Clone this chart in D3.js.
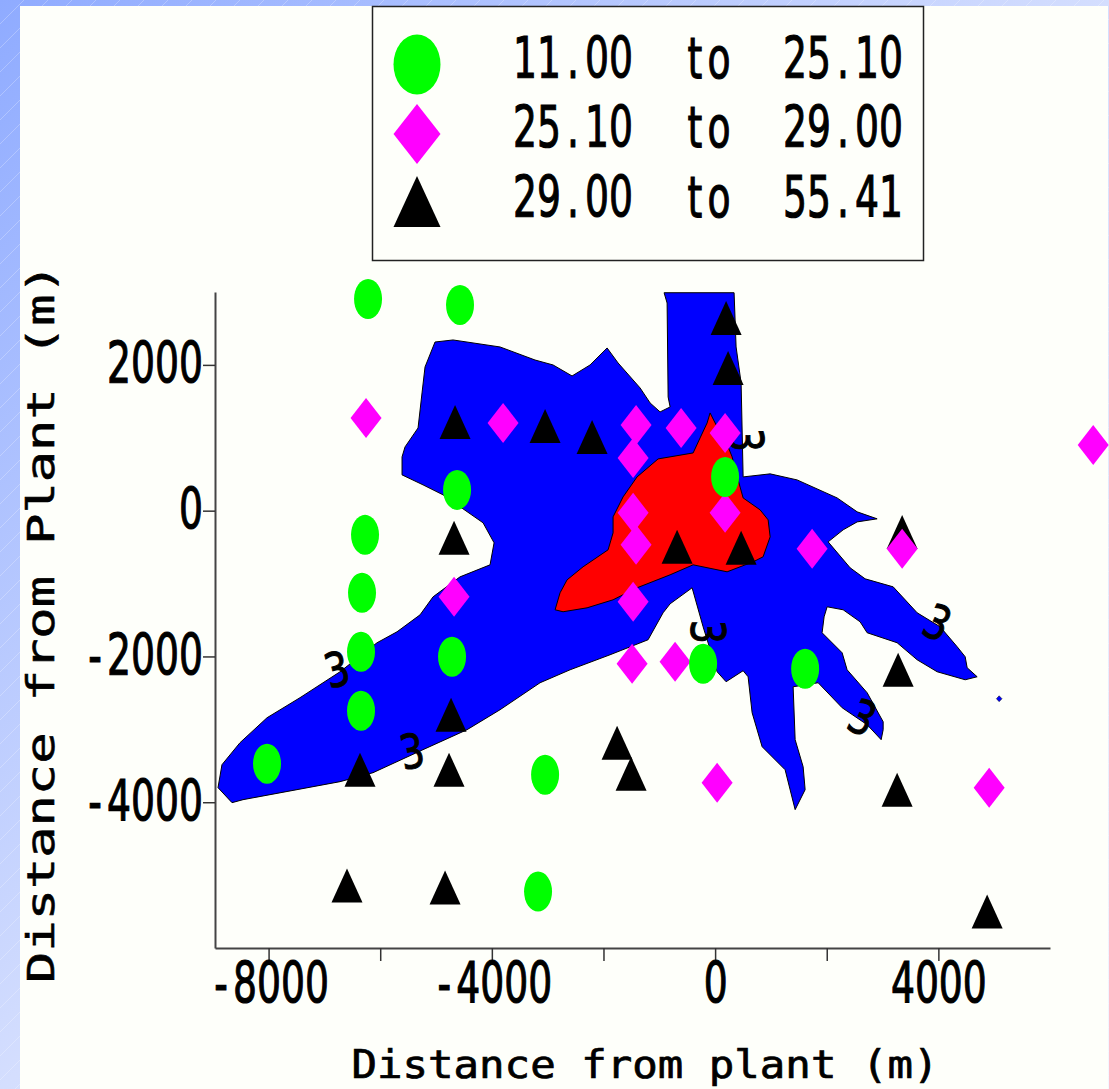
<!DOCTYPE html>
<html>
<head>
<meta charset="utf-8">
<script src="https://cdn.jsdelivr.net/npm/d3@7"></script>
<style>
  body { margin: 0; background: #fff; }
  svg { display: block; }
  .num { font-family: "DejaVu Sans"; font-size: 37.7px; fill: #000; stroke: #000; stroke-width: 0.8px; }
  .titulo { font-family: "DejaVu Sans Mono"; fill: #000; stroke: #000; stroke-width: 0.8px; }
  .tres { font-family: "DejaVu Sans"; fill: #000; stroke: #000; stroke-width: 0.8px; }
  .ejes path { stroke: #444; stroke-width: 2px; }
  .ejes line { stroke: #333; stroke-width: 1.5px; }
</style>
</head>
<body>
<div id="graf"></div>
<script>
// samples per class, [distance x, distance y] in m
const circulos = [[-6218,2904],[-4570,2822],[-4623,285],[-6272,-332],[-6326,-1127],[-6344,-1936],[-6344,-2745],[-8028,-3471],[-4713,-2004],[-3046,-3622],[-3172,-5226],[179,463],[-215,-2100],[1613,-2169]]
const rombos = [[-6254,1272],[-3799,1204],[-1416,1176],[-609,1135],[179,1067],[-1469,724],[-1469,-30],[-1416,-469],[-1469,-1250],[179,-30],[1738,-524],[3351,-524],[-1487,-2100],[-717,-2073],[36,-3732],[4910,-3800],[6774,902],[-4677,-1182]]
const triangulos = [[-6595,-5144],[-4838,-5171],[4874,-5500],[197,2643],[233,1958],[-4659,1217],[-3046,1163],[-2204,1012],[-681,-496],[466,-510],[-4677,-373],[-4731,-2800],[-6362,-3554],[-4767,-3554],[-1756,-3183],[-1505,-3608],[3261,-3828],[3279,-2183],[3351,-291]]

// contour outlines
const contornoAzul = [[-914,2990],[340,2990],[376,2246],[466,1752],[502,463],[986,505],[1469,422],[2186,175],[2545,-16],[2903,-112],[2545,-154],[2294,-263],[2025,-428],[2419,-784],[2688,-935],[3190,-1045],[3620,-1401],[4032,-1593],[4337,-1867],[4480,-2004],[4516,-2155],[4695,-2279],[4480,-2320],[3978,-2210],[3620,-2046],[3261,-1812],[2724,-1675],[2598,-1525],[2294,-1360],[2007,-1319],[1953,-1456],[1917,-1675],[2276,-1950],[2365,-2183],[2724,-2498],[3011,-2896],[3011,-3005],[2975,-3142],[2724,-2937],[2276,-2704],[1846,-2361],[1398,-2416],[1434,-3142],[1577,-3513],[1613,-3828],[1434,-4102],[1254,-3554],[842,-3238],[663,-2772],[591,-2279],[502,-2196],[197,-2347],[36,-2210],[-215,-1593],[-412,-1058],[-806,-1278],[-932,-1401],[-1201,-1771],[-1882,-1977],[-2598,-2183],[-3136,-2361],[-3853,-2731],[-4444,-3005],[-5233,-3279],[-6129,-3595],[-6720,-3718],[-8458,-3965],[-8655,-4006],[-8906,-3800],[-8835,-3485],[-8512,-3183],[-8028,-2841],[-7437,-2566],[-6720,-2210],[-6057,-1812],[-5699,-1662],[-5286,-1429],[-5053,-1182],[-4570,-908],[-4032,-743],[-3960,-441],[-4157,-167],[-4516,25],[-4874,217],[-5233,354],[-5609,491],[-5609,738],[-5555,875],[-5322,1135],[-5251,1615],[-5197,1972],[-5018,2314],[-4695,2342],[-3853,2246],[-3226,2067],[-2903,1999],[-2563,1848],[-2240,1999],[-1935,2232],[-1738,2026],[-1344,1684],[-1165,1478],[-986,1355],[-806,1423],[-842,1560],[-860,2849]]
const islaAzul = [[5040,-2580],[5089,-2540],[5140,-2580],[5089,-2620]]
const contornoRojo = [[-2867,-1360],[-2778,-1127],[-2652,-949],[-2365,-770],[-1917,-537],[-1828,-304],[-1828,-85],[-1649,189],[-1398,463],[-1021,710],[-394,792],[-269,998],[-143,1204],[-90,1341],[0,1204],[233,875],[305,738],[412,422],[502,175],[806,11],[950,-126],[986,-359],[860,-633],[681,-702],[215,-839],[-394,-743],[-806,-880],[-1398,-1058],[-1828,-1223],[-2294,-1333],[-2724,-1387]]

// "3" contour labels and how much each is turned
const etiquetas = [[-6774,-2183],[-5430,-3307],[538,971],[-143,-1662],[3978,-1538],[2634,-2841]]
const giros = [-14,-10,90,90,25,25]

// legend classes
const claseDesde = [11.00, 25.10, 29.00]
const claseHasta = [25.10, 29.00, 55.41]

// axes
const xTicks = [-8000,-6000,-4000,-2000,0,2000,4000]
const xLabels = [-8000,-4000,0,4000]
const yTicks = [2000,0,-2000,-4000]

const anchoTotal = 1109
const altoTotal = 1089
const margins = { left: 215, top: 292, right: 59, bottom: 141 }
const ancho = anchoTotal - margins.left - margins.right
const alto = altoTotal - margins.top - margins.bottom

const svg = d3.select("#graf")
  .append("svg")
  .attr("width", anchoTotal)
  .attr("height", altoTotal)

// slide background
const defs = svg.append("defs")
const grad = defs.append("linearGradient").attr("id", "fondo")
  .attr("x1", 0).attr("y1", 0).attr("x2", 1).attr("y2", 1)
grad.append("stop").attr("offset", 0).attr("stop-color", "#8fabff")
grad.append("stop").attr("offset", 0.5).attr("stop-color", "#d4defe")
grad.append("stop").attr("offset", 1).attr("stop-color", "#f4f6ff")
const trama = defs.append("pattern").attr("id", "trama")
  .attr("width", 24).attr("height", 24).attr("patternUnits", "userSpaceOnUse")
trama.append("path").attr("d", "M0,24L24,0").attr("stroke", "#fff").attr("stroke-opacity", 0.25).attr("fill", "none")

svg.append("rect").attr("width", anchoTotal).attr("height", altoTotal).attr("fill", "url(#fondo)")
svg.append("rect").attr("width", anchoTotal).attr("height", altoTotal).attr("fill", "url(#trama)")
svg.append("rect").attr("x", 20).attr("y", 6).attr("width", 1088).attr("height", 1083).attr("fill", "#fefffa")

const x = d3.scaleLinear().domain([-8960, 6000]).range([0, ancho])
const y = d3.scaleLinear().domain([-6000, 3000]).range([alto, 0])

// text on a fixed character cell, the plot font is monospaced
const ctx = document.createElement("canvas").getContext("2d")
const celdas = (sel, texto, paso, inicio, fuente) => {
  ctx.font = fuente
  const xs = Array.from(texto).map((c, i) => inicio + i * paso + (paso - ctx.measureText(c).width) / 2)
  sel.text(texto).attr("x", xs.join(" "))
}
const numFont = '37.7px "DejaVu Sans"'

const g = svg.append("g").attr("transform", `translate(${margins.left}, ${margins.top})`)

const linea = d3.line().x((d) => x(d[0])).y((d) => y(d[1])).curve(d3.curveLinearClosed)

g.append("path").attr("d", linea(contornoAzul)).attr("fill", "#0000ff").attr("stroke", "#000")
g.append("path").attr("d", linea(islaAzul)).attr("fill", "#0000ff").attr("stroke", "#000").attr("stroke-width", 0.5)
g.append("path").attr("d", linea(contornoRojo)).attr("fill", "#ff0000").attr("stroke", "#000")

// axes
const xAxis = d3.axisBottom(x).tickValues(xTicks).tickSize(13).tickSizeOuter(0)
  .tickFormat((d) => xLabels.includes(d) ? String(d) : "")
const yAxis = d3.axisLeft(y).tickValues(yTicks).tickSize(12).tickSizeOuter(0)
  .tickFormat(String)

const gx = g.append("g").attr("transform", `translate(0, ${alto})`).attr("class", "ejes").call(xAxis)
const gy = g.append("g").attr("class", "ejes").call(yAxis)

gx.selectAll("text").each(function (d) {
  const t = String(d)
  const sel = d3.select(this)
    .attr("class", "num").attr("y", null).attr("dy", null).attr("text-anchor", "start")
    .attr("transform", "translate(0, 55) scale(1, 1.49)")
  if (xLabels.includes(d)) celdas(sel, t, 24, -t.length * 12, numFont)
})
gy.selectAll("text").each(function (d) {
  const t = String(d)
  const sel = d3.select(this)
    .attr("class", "num").attr("dy", null).attr("text-anchor", "start")
    .attr("transform", "translate(0, 18) scale(1, 1.49)")
  celdas(sel, t, 24, -12 - t.length * 24, numFont)
})

// axis titles
svg.append("text").attr("class", "titulo")
  .attr("text-anchor", "middle").attr("font-size", 42.4)
  .attr("transform", "translate(645, 1078) scale(1, 0.9)")
  .text("Distance from plant (m)")
svg.append("text").attr("class", "titulo")
  .attr("text-anchor", "middle").attr("font-size", 52)
  .attr("transform", "translate(54, 623) rotate(-90) scale(1, 0.71)")
  .text("Distance from Plant (m)")

// contour labels
g.selectAll(".tres").data(etiquetas).enter().append("text")
  .attr("class", "tres")
  .attr("font-size", 38)
  .attr("text-anchor", "middle").attr("dominant-baseline", "central")
  .attr("transform", (d, i) => `translate(${x(d[0])}, ${y(d[1])}) rotate(${giros[i]}) scale(1, 1.25)`)
  .text("3")

// markers
const trianguloD = (w, h) => `M0,${-h / 2}L${w / 2},${h / 2}L${-w / 2},${h / 2}Z`
const romboD = (w, h) => `M0,${-h}L${w},0L0,${h}L${-w},0Z`

g.selectAll(".tri").data(triangulos).enter().append("path")
  .attr("class", "tri").attr("d", trianguloD(31, 34)).attr("fill", "#000")
  .attr("transform", (d) => `translate(${x(d[0])}, ${y(d[1])})`)
g.selectAll(".rom").data(rombos).enter().append("path")
  .attr("class", "rom").attr("d", romboD(15.5, 20)).attr("fill", "#ff00ff")
  .attr("transform", (d) => `translate(${x(d[0])}, ${y(d[1])})`)
g.selectAll(".cir").data(circulos).enter().append("ellipse")
  .attr("class", "cir").attr("rx", 14).attr("ry", 20).attr("fill", "#00ff00")
  .attr("cx", (d) => x(d[0])).attr("cy", (d) => y(d[1]))

// legend
const leg = svg.append("g")
leg.append("rect").attr("x", 372.5).attr("y", 6.5).attr("width", 551).attr("height", 254)
  .attr("fill", "#fefffa").attr("stroke", "#222").attr("stroke-width", 1.5)
leg.append("ellipse").attr("cx", 417).attr("cy", 64.5).attr("rx", 23.5).attr("ry", 30).attr("fill", "#00ff00")
leg.append("path").attr("d", romboD(23.5, 30)).attr("transform", "translate(417, 134)").attr("fill", "#ff00ff")
leg.append("path").attr("d", trianguloD(47, 51)).attr("transform", "translate(417, 201.5)").attr("fill", "#000")

const bases = [78, 147, 217]
claseDesde.forEach((v, i) => {
  const cols = [[v.toFixed(2), 513], ["to", 683], [claseHasta[i].toFixed(2), 783]]
  cols.forEach(([t, px]) => {
    const sel = leg.append("text").attr("class", "num")
      .attr("transform", `translate(${px}, ${bases[i]}) scale(1, 1.49)`)
    celdas(sel, t, 24, 0, numFont)
  })
})
</script>
</body>
</html>
